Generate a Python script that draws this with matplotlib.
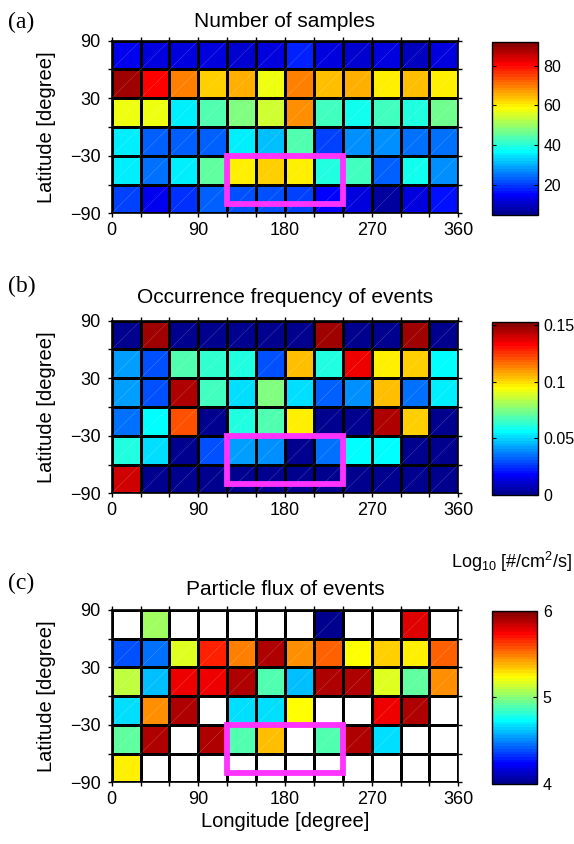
import numpy as np
import matplotlib
matplotlib.use("Agg")
import matplotlib.pyplot as plt
from matplotlib.patches import Rectangle
from matplotlib.colors import ListedColormap

plt.rcParams['font.family'] = ['Liberation Sans', 'DejaVu Sans']
plt.rcParams['mathtext.fontset'] = 'custom'
plt.rcParams['mathtext.rm'] = 'Liberation Sans'
plt.rcParams['mathtext.it'] = 'Liberation Sans:italic'

# ---- bins ----
lon_edges = np.arange(0, 361, 30)
lat_edges = np.arange(-90, 91, 30)
xtick_labels = ['0', '', '', '90', '', '', '180', '', '', '270', '', '', '360']
ytick_labels = ['\u221290', '', '\u221230', '', '30', '', '90']

# rows listed from top (60..90) to bottom (-90..-60)
samples = [
    [14, 12, 13, 12, 11, 13, 18, 12, 11, 13, 10, 13],
    [88, 81, 70, 63, 65, 57, 70, 64, 65, 60, 64, 60],
    [57, 57, 35, 44, 48, 55, 68, 42, 38, 42, 40, 46],
    [36, 24, 23, 24, 36, 32, 44, 21, 27, 28, 25, 25],
    [35, 25, 36, 45, 60, 63, 60, 39, 42, 24, 38, 27],
    [20, 14, 19, 24, 22, 22, 21, 15, 13, 7, 13, 17],
]
occurrence = [
    [0.0, 0.148, 0.0, 0.0, 0.0, 0.0, 0.0, 0.148, 0.0, 0.0, 0.148, 0.0],
    [0.041, 0.029, 0.069, 0.064, 0.062, 0.029, 0.105, 0.062, 0.134, 0.096, 0.101, 0.057],
    [0.043, 0.029, 0.145, 0.066, 0.051, 0.076, 0.051, 0.032, 0.039, 0.103, 0.034, 0.053],
    [0.035, 0.057, 0.121, 0.0, 0.060, 0.069, 0.096, 0.0, 0.0, 0.145, 0.101, 0.0],
    [0.062, 0.051, 0.0, 0.029, 0.041, 0.040, 0.0, 0.034, 0.055, 0.057, 0.0, 0.0],
    [0.141, 0.0, 0.0, 0.0, 0.0, 0.0, 0.0, 0.0, 0.0, 0.0, 0.0, 0.0],
]
nan = np.nan
flux = [
    [nan, 5.04, nan, nan, nan, nan, nan, 4.02, nan, nan, 5.8, nan],
    [4.38, 4.46, 5.18, 5.66, 5.48, 5.9, 5.46, 5.56, 5.22, 5.32, 5.25, 5.54],
    [5.10, 4.62, 5.75, 5.75, 5.9, 4.9, 4.6, 5.9, 5.9, 5.18, 4.92, 5.46],
    [4.68, 5.46, 5.9, nan, 4.68, 4.66, 5.24, nan, nan, 5.75, 5.9, nan],
    [4.93, 5.9, nan, 5.9, 4.9, 5.36, nan, 4.9, 5.9, 4.68, nan, nan],
    [5.25, nan, nan, nan, nan, nan, nan, nan, nan, nan, nan, nan],
]
region_lon = [120, 240]
region_lat = [-80, -30]


def matlab_jet(m=64):
    n = int(np.ceil(m / 4))
    u = np.concatenate([np.arange(1, n + 1) / n, np.ones(n - 1), np.arange(n, 0, -1) / n])
    g = int(np.ceil(n / 2)) - (1 if m % 4 == 1 else 0) + np.arange(1, len(u) + 1)
    r = g + n
    b = g - n
    J = np.zeros((m, 3))
    ok = r <= m
    J[r[ok] - 1, 0] = u[ok]
    ok = g <= m
    J[g[ok] - 1, 1] = u[ok]
    ok = b > 0
    J[b[ok] - 1, 2] = u[ok]
    return ListedColormap(J)


W, H = 574, 844
fig = plt.figure(figsize=(W / 100, H / 100), dpi=100)


def px(x0, y0, x1, y1):
    return [x0 / W, 1 - y1 / H, (x1 - x0) / W, (y1 - y0) / H]


cmap = matlab_jet(64)
cmap.set_bad('white')

panels = [
    dict(data=samples, vmin=5, vmax=92, ticks=[20, 40, 60, 80], tl=['20', '40', '60', '80'],
         ax=(111.7, 40.7, 458.3, 213.3), cb=(491.7, 41.7, 537.7, 215.0),
         title='Number of samples', ty=27, lab='(a)', ly=28),
    dict(data=occurrence, vmin=0, vmax=0.153, ticks=[0, 0.05, 0.1, 0.15], tl=['0', '0.05', '0.1', '0.15'],
         ax=(111.7, 320.7, 458.3, 493.3), cb=(491.7, 321.7, 537.7, 495.0),
         title='Occurrence frequency of events', ty=303, lab='(b)', ly=292),
    dict(data=flux, vmin=4, vmax=6, ticks=[4, 5, 6], tl=['4', '5', '6'],
         ax=(111.7, 610.0, 458.3, 782.3), cb=(492.3, 610.7, 537.3, 784.0),
         title='Particle flux of events', ty=595, lab='(c)', ly=589),
]

for i, p in enumerate(panels):
    ax = fig.add_axes(px(*p['ax']))
    arr = np.ma.masked_invalid(np.array(p['data'], dtype=float)[::-1])
    mesh = ax.pcolormesh(lon_edges, lat_edges, arr, cmap=cmap, vmin=p['vmin'], vmax=p['vmax'],
                         edgecolors='black', linewidth=1.0)
    # faint diagonal rendering lines in each cell
    for lo in lon_edges[:-1]:
        for la in lat_edges[:-1]:
            ax.plot([lo, lo + 30], [la, la + 30], color='white', lw=0.3, alpha=0.3)
    ax.add_patch(Rectangle((region_lon[0], region_lat[0]), region_lon[1] - region_lon[0],
                           region_lat[1] - region_lat[0], fill=False, edgecolor='#ff33ff',
                           linewidth=4.2, zorder=5, clip_on=False))
    ax.set_xlim(0, 360)
    ax.set_ylim(-90, 90)
    ax.set_xticks(lon_edges)
    ax.set_xticklabels(xtick_labels)
    ax.set_yticks(lat_edges)
    ax.set_yticklabels(ytick_labels)
    ax.tick_params(direction='out', length=3, width=1, labelsize=13, top=True, right=True)
    ax.tick_params(axis='y', pad=5)
    ax.tick_params(axis='x', pad=3)
    for s in ax.spines.values():
        s.set_linewidth(1.2)
    ax.set_ylabel('Latitude [degree]', fontsize=14.5, va='center')
    ax.yaxis.set_label_coords((47 - p['ax'][0]) / (p['ax'][2] - p['ax'][0]), 0.5)
    if i == 2:
        ax.set_xlabel('Longitude [degree]', fontsize=14.5, labelpad=3)

    cax = fig.add_axes(px(*p['cb']))
    cb = fig.colorbar(mesh, cax=cax)
    cb.set_ticks(p['ticks'])
    cb.set_ticklabels(p['tl'])
    cax.tick_params(direction='in', length=3, labelsize=11.5, left=True, right=True, pad=4)
    cb.outline.set_linewidth(1.0)

    x0, y0, x1, y1 = p['ax']
    fig.text((x0 + x1) / 2 / W, 1 - p['ty'] / H, p['title'], ha='center', va='baseline', fontsize=15)
    fig.text(8 / W, 1 - p['ly'] / H, p['lab'], ha='left', va='baseline', fontsize=17,
             family='Liberation Serif')

fig.text(572 / W, 1 - 568 / H, r'Log$_{10}$ [#/cm$^2$/s]', ha='right', va='baseline', fontsize=13)

fig.savefig('out.png', dpi=100)
